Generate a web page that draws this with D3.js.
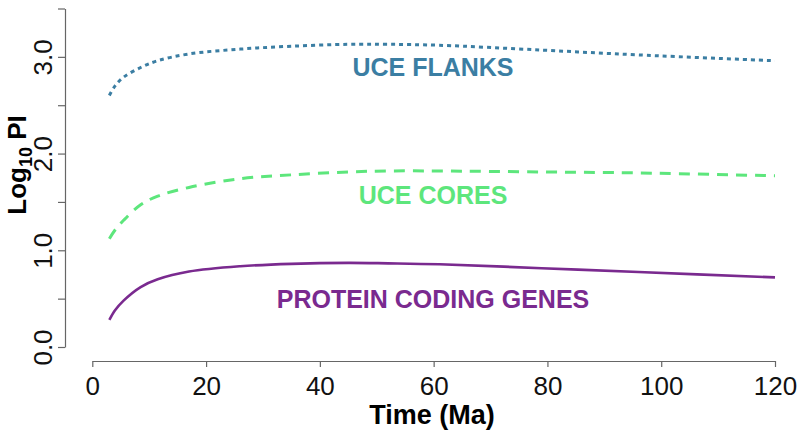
<!DOCTYPE html>
<html>
<head>
<meta charset="utf-8">
<script src="https://cdn.jsdelivr.net/npm/d3@7"></script>
<style>
html,body{margin:0;padding:0;background:#fff;}
svg{display:block;font-family:"Liberation Sans",Arial,Helvetica,sans-serif;}
</style>
</head>
<body>
<svg id="chart" width="800" height="433"></svg>
<script>
const times = [3, 4, 5.5, 8.5, 11.5, 17, 26, 35, 45, 52, 61, 79, 96, 120];
const uceFlanks = [2.60, 2.70, 2.79, 2.89, 2.96, 3.03, 3.08, 3.11, 3.13, 3.13, 3.12, 3.07, 3.02, 2.96];
const uceCores = [1.12, 1.21, 1.31, 1.47, 1.56, 1.65, 1.74, 1.78, 1.81, 1.82, 1.82, 1.81, 1.80, 1.77];
const proteinCoding = [0.28, 0.38, 0.48, 0.62, 0.70, 0.78, 0.835, 0.86, 0.87, 0.865, 0.855, 0.815, 0.775, 0.72];
const xTicks = [0, 20, 40, 60, 80, 100, 120];
const yTicks = [0, 0.5, 1, 1.5, 2, 2.5, 3, 3.5];
const yLabelTicks = [0, 1, 2, 3];
const seriesNames = ["UCE FLANKS", "UCE CORES", "PROTEIN CODING GENES"];

const svg = d3.select("#chart");
const x = d3.scaleLinear().domain([0, 120]).range([92.3, 775]);
const y = d3.scaleLinear().domain([0, 3.5]).range([347, 8.5]);

// X axis
const xAxis = svg.append("g").attr("transform", "translate(0,361)")
  .call(d3.axisBottom(x).tickValues(xTicks).tickSize(6).tickSizeOuter(0).tickPadding(8).tickFormat(d3.format("d")));
xAxis.select(".domain").attr("stroke", "#666").attr("stroke-width", 1.2);
xAxis.selectAll(".tick line").attr("stroke", "#666").attr("stroke-width", 1.2);
xAxis.selectAll(".tick text").attr("font-size", 26).attr("fill", "#111")
  .attr("font-family", "Liberation Sans, Arial, sans-serif").attr("dy", "0.76em");

// Y axis
const yAxis = svg.append("g").attr("transform", "translate(65,0)")
  .call(d3.axisLeft(y).tickValues(yTicks).tickSize(7).tickSizeOuter(0)
    .tickFormat(d => yLabelTicks.includes(d) ? d3.format(".1f")(d) : ""));
yAxis.select(".domain").attr("stroke", "#666").attr("stroke-width", 1.2);
yAxis.selectAll(".tick line").attr("stroke", "#666").attr("stroke-width", 1.2);
yAxis.selectAll(".tick text")
  .attr("x", null).attr("dy", null)
  .attr("transform", "translate(-13,0) rotate(-90)")
  .attr("text-anchor", "middle")
  .attr("font-size", 26).attr("fill", "#111")
  .attr("font-family", "Liberation Sans, Arial, sans-serif");

// Series
const series = [
  {name: seriesNames[0], values: uceFlanks, color: "#3b7ea3", dash: "4,4", width: 3, labelY: 76},
  {name: seriesNames[1], values: uceCores, color: "#5de67c", dash: "11,8", width: 3, labelY: 204},
  {name: seriesNames[2], values: proteinCoding, color: "#7a2a8f", dash: null, width: 2.6, labelY: 308}
];
const line = d3.line().x(d => x(d[0])).y(d => y(d[1])).curve(d3.curveCatmullRom.alpha(0.5));
series.forEach(s => {
  svg.append("path")
    .datum(times.map((t, i) => [t, s.values[i]]))
    .attr("d", line)
    .attr("fill", "none")
    .attr("stroke", s.color)
    .attr("stroke-width", s.width)
    .attr("stroke-dasharray", s.dash);
  svg.append("text")
    .attr("x", 433).attr("y", s.labelY)
    .attr("text-anchor", "middle")
    .attr("font-size", 25).attr("font-weight", "bold")
    .attr("fill", s.color)
    .text(s.name);
});

// Axis titles
svg.append("text")
  .attr("x", 432).attr("y", 424)
  .attr("text-anchor", "middle")
  .attr("font-size", 27).attr("font-weight", "bold").attr("fill", "#000")
  .text("Time (Ma)");

const yTitle = svg.append("text")
  .attr("transform", "translate(26,165) rotate(-90)")
  .attr("text-anchor", "middle")
  .attr("font-size", 26).attr("font-weight", "bold").attr("fill", "#000");
yTitle.append("tspan").text("Log");
yTitle.append("tspan").attr("font-size", 18).attr("dy", 6).text("10");
yTitle.append("tspan").attr("dy", -6).text(" PI");
</script>
</body>
</html>
